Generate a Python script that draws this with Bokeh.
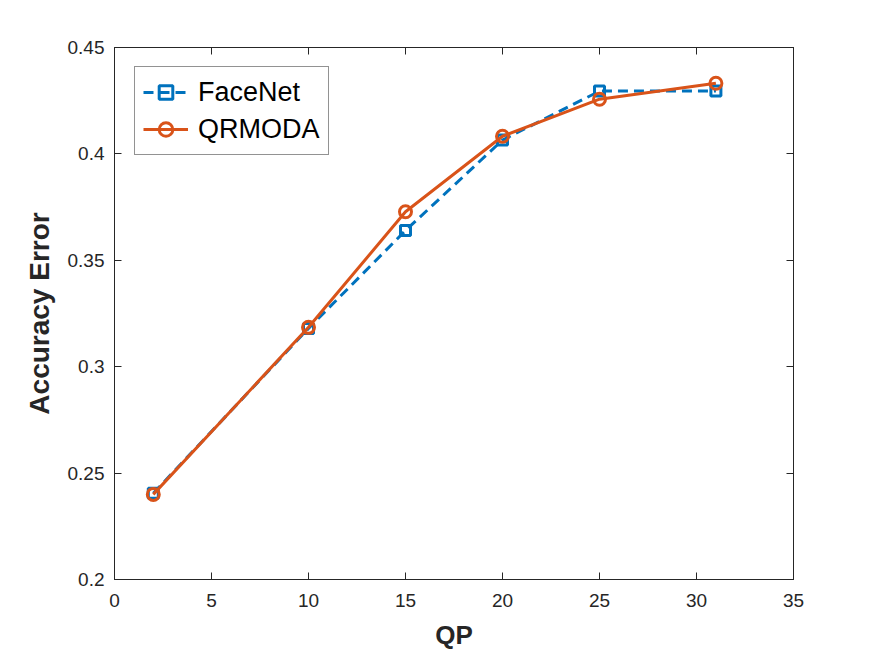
from bokeh.plotting import figure
from bokeh.models import FixedTicker, LinearAxis, Range1d, Legend, LegendItem
from bokeh.embed import file_html
from bokeh.resources import INLINE

qp = [2, 10, 15, 20, 25, 31]
facenet = [0.2405, 0.318, 0.364, 0.4065, 0.4295, 0.4295]
qrmoda = [0.240, 0.3185, 0.3728, 0.4083, 0.4257, 0.4332]
x_ticks = [0, 5, 10, 15, 20, 25, 30, 35]
y_ticks = [0.2, 0.25, 0.3, 0.35, 0.4, 0.45]
y_tick_labels = ["0.2", "0.25", "0.3", "0.35", "0.4", "0.45"]

BLUE = "#0072BD"
ORANGE = "#D95319"
FONT = "Liberation Sans"
AX = "#262626"

p = figure(width=875, height=657, output_backend="svg", toolbar_location=None,
           x_range=Range1d(0, 35), y_range=Range1d(0.2, 0.45),
           min_border_left=114, min_border_right=82, min_border_top=47, min_border_bottom=78)
p.grid.visible = False
p.outline_line_color = AX
p.outline_line_width = 1
p.background_fill_color = "white"
p.border_fill_color = "white"

def style_axis(ax, labels=True):
    ax.major_tick_in = 7
    ax.major_tick_out = 0
    ax.minor_tick_in = 0
    ax.minor_tick_out = 0
    ax.axis_line_color = AX
    ax.major_tick_line_color = AX
    ax.major_label_text_font = FONT
    ax.major_label_text_font_size = "19px"
    ax.major_label_text_color = AX
    ax.axis_label_text_font = FONT
    ax.axis_label_text_font_style = "bold"
    ax.axis_label_text_font_size = "26px"
    ax.axis_label_text_color = AX
    if not labels:
        ax.major_label_text_font_size = "0px"
        ax.major_label_text_alpha = 0

p.xaxis.ticker = FixedTicker(ticks=x_ticks)
p.yaxis.ticker = FixedTicker(ticks=y_ticks)
p.yaxis.major_label_overrides = {t: l for t, l in zip(y_ticks, y_tick_labels)}
p.xaxis.axis_label = "QP"
p.yaxis.axis_label = "Accuracy Error"
style_axis(p.xaxis[0])
style_axis(p.yaxis[0])
p.yaxis.axis_label_text_font_size = "28px"
p.xaxis.major_label_standoff = 14
p.yaxis.major_label_standoff = 10
p.xaxis.axis_label_standoff = 10
p.yaxis.axis_label_standoff = 10

top = LinearAxis(ticker=FixedTicker(ticks=x_ticks))
style_axis(top, labels=False)
right = LinearAxis(ticker=FixedTicker(ticks=y_ticks))
style_axis(right, labels=False)
p.add_layout(top, "above")
p.add_layout(right, "right")
p.min_border_top = 47
p.min_border_right = 82

l1 = p.line(qp, facenet, line_color=BLUE, line_width=3, line_dash="10 6")
m1 = p.scatter(qp, facenet, marker="square", size=10, line_color=BLUE, line_width=3, fill_color=None)
l2 = p.line(qp, qrmoda, line_color=ORANGE, line_width=3)
m2 = p.scatter(qp, qrmoda, marker="circle", size=12, line_color=ORANGE, line_width=3, fill_color=None)

legend = Legend(items=[LegendItem(label="FaceNet", renderers=[l1, m1]),
                       LegendItem(label="QRMODA", renderers=[l2, m2])],
                location=(20, 424))
legend.label_text_font = FONT
legend.label_text_font_size = "27px"
legend.label_text_color = "black"
legend.border_line_color = AX
legend.border_line_width = 1
legend.glyph_width = 45
legend.glyph_height = 34
legend.label_standoff = 10
legend.spacing = 3
legend.padding = 8
legend.margin = 0
legend.label_height = 34
p.add_layout(legend, "center")

open("out.html", "w").write(file_html(p, INLINE))
